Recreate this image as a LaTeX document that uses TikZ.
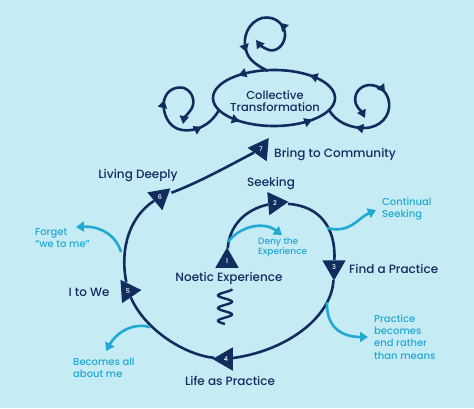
\documentclass[tikz,border=0pt]{standalone}
\usepackage{fontspec}
\setmainfont{Poppins}[UprightFont={* Medium},BoldFont={* SemiBold}]
\usetikzlibrary{arrows.meta,decorations.markings,shapes.geometric}
\definecolor{bgc}{HTML}{C5EBF5}
\definecolor{navy}{HTML}{112D5E}
\definecolor{cyanc}{HTML}{22A8D2}
\tikzset{
  ah/.tip={Triangle[length=8pt,width=9pt]},
  cah/.tip={Triangle[length=8pt,width=10pt]},
  nline/.style={draw=navy,line width=2.6pt},
  cline/.style={draw=cyanc,line width=2.6pt,-{cah}},
  marker/.style={regular polygon,regular polygon sides=3,fill=navy,minimum size=27pt,inner sep=0pt,text=white,font=\fontsize{6.5}{7}\selectfont},
  lab/.style={text=navy,font=\fontsize{12}{13}\selectfont,inner sep=0pt},
  clab/.style={text=cyanc,font=\fontsize{10}{12.3}\selectfont,align=left,inner sep=0pt},
}
\begin{document}
\begin{tikzpicture}[x=1pt,y=-1pt]
\fill[bgc] (0,0) rectangle (474,408);
\useasboundingbox (0,0) rectangle (474,408);

% markers
\node[marker,shape border rotate=0] (m1) at (227,261) {1};
\node[marker,shape border rotate=-85] (m2) at (275,203) {2};
\node[marker,shape border rotate=180] (m3) at (334,267) {3};
\node[marker,shape border rotate=90] (m4) at (226,359) {4};
\node[marker,shape border rotate=34] (m5) at (128,291) {5};
\node[marker,shape border rotate=190] (m6) at (160,197) {6};
\node[marker,shape border rotate=85] (m7) at (261,149) {7};

% main spiral
\draw[nline] (m1) .. controls (229,228) and (243,210) .. (m2);
\draw[nline,shorten <=2pt] (m2) .. controls (320,206) and (336,228) .. (m3);
\draw[nline] (m3) .. controls (332,315) and (290,350) .. (m4);
\draw[nline] (m4) .. controls (185,355) and (145,330) .. (m5);
\draw[nline] (m5) .. controls (119,245) and (132,215) .. (m6);
\draw[nline,shorten <=3pt] (m6) .. controls (200,182) and (230,165) .. (m7);

% cyan branches
\coordinate (d0) at (228,242);
\coordinate (c0) at (327,228);
\coordinate (p0) at (327,302);
\coordinate (b0) at (150,327);
\coordinate (f0) at (121,252);
\coordinate (d1) at (282,235);
\coordinate (c1) at (376,210);
\coordinate (p1) at (368,337);
\coordinate (b1) at (106,351);
\coordinate (f1) at (76,227);
\draw[cline] (d0) .. controls (238,228) and (262,220) .. (d1);
\draw[cline] (c0) .. controls (350,234) and (358,218) .. (c1);
\draw[cline] (p0) .. controls (326,330) and (345,337) .. (p1);
\draw[cline] (b0) .. controls (130,322) and (115,335) .. (b1);
\draw[cline] (f0) .. controls (116,235) and (100,226) .. (f1);

% ellipse
\draw[nline,postaction={decorate},decoration={markings,
  mark=at position 0.125 with {\arrow{ah}},
  mark=at position 0.375 with {\arrow{ah}},
  mark=at position 0.63 with {\arrow{ah}},
  mark=at position 0.885 with {\arrow{ah}}}]
  (335,98) arc[start angle=0,end angle=-360,x radius=61,y radius=28];
\node[lab,align=center,font=\fontsize{11.5}{12.5}\selectfont] (ct) at (275,101) {Collective\\Transformation};

% top spiral
\draw[nline,-{ah},postaction={decorate},decoration={markings,
  mark=at position 0.2 with {\arrowreversed{ah}},
  mark=at position 0.62 with {\arrowreversed{ah}}}]
  (268,71) .. controls (258,66) and (248,60) .. (246,50)
  .. controls (242,38) and (248,22) .. (262,18)
  .. controls (276,15) and (286,26) .. (285,36)
  .. controls (284,46) and (276,52) .. (269,50)
  .. controls (263,48) and (259,44) .. (256,40);

% left loop
\draw[nline,-{ah},postaction={decorate},decoration={markings,
  mark=at position 0.16 with {\arrowreversed{ah}},
  mark=at position 0.55 with {\arrow{ah}}}]
  (219,110) .. controls (210,126) and (195,132) .. (182,130)
  .. controls (168,128) and (162,112) .. (164,101)
  .. controls (166,90) and (176,86) .. (184,88)
  .. controls (194,92) and (196,104) .. (190,111)
  .. controls (187,115) and (184,118) .. (183,124);

% right loop
\draw[nline,-{ah},postaction={decorate},decoration={markings,
  mark=at position 0.21 with {\arrowreversed{ah}},
  mark=at position 0.6 with {\arrowreversed{ah}}}]
  (329,110) .. controls (336,122) and (350,128) .. (364,128)
  .. controls (380,128) and (391,116) .. (389,102)
  .. controls (387,90) and (378,85) .. (369,85)
  .. controls (358,86) and (353,96) .. (356,104)
  .. controls (358,109) and (362,112) .. (365,118);

% squiggle
\draw[nline,line width=2.4pt] plot[smooth,samples=50,domain=0:1] ({225+7*cos(990*\x)},{289+35*\x});

% labels
\node[lab,anchor=west] (bc) at (274,155) {Bring to Community};
\node[lab] (ld) at (138,176) {Living Deeply};
\node[lab] (sk) at (271,184) {Seeking};
\node[clab,anchor=west] (cs) at (382,209) {Continual\\Seeking};
\node[clab,anchor=west,font=\fontsize{9}{10}\selectfont] (de) at (258,247) {Deny the\\Experience};
\node[lab,anchor=west] (fp) at (349,269) {Find a Practice};
\node[lab] (ne) at (229,278) {Noetic Experience};
\node[lab] (iw) at (89,292) {I to We};
\node[clab,anchor=west] (ba) at (73,368) {Becomes all\\about me};
\node[lab] (lp) at (230,381) {Life as Practice};
\node[clab,anchor=west] (pb) at (374,337) {Practice\\becomes\\end rather\\than means};
\node[clab,anchor=west] (fg) at (35,238) {Forget\\“we to me”};
\end{tikzpicture}
\end{document}
